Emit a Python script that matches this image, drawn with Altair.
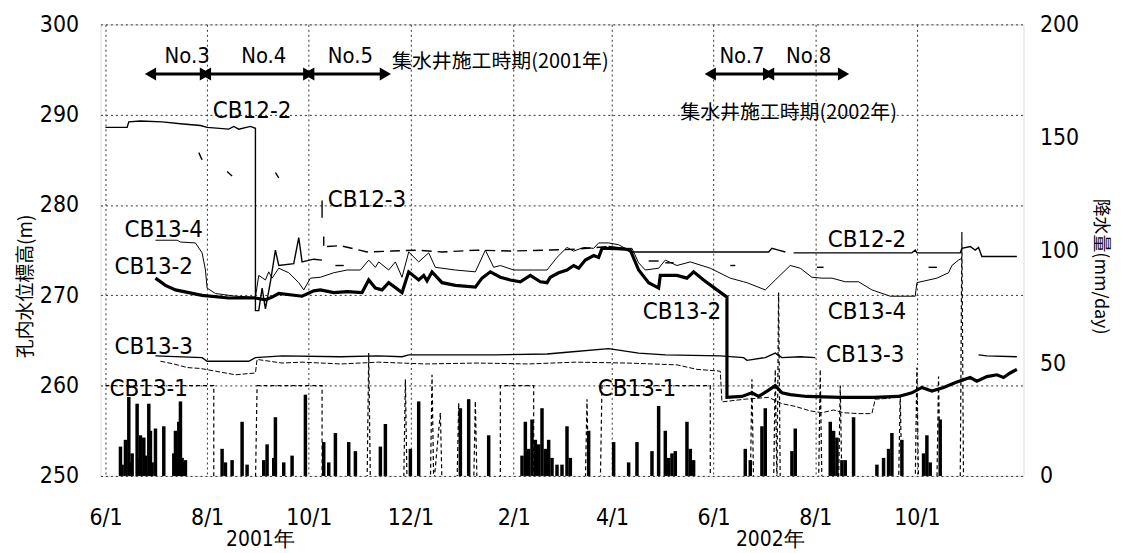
import altair as alt
import pandas as pd

# ---------------- data ----------------
rain_dates = ["2001-06-10","2001-06-11","2001-06-13","2001-06-15","2001-06-16","2001-06-17","2001-06-20","2001-06-21",
              "2001-06-22","2001-06-24","2001-06-25","2001-06-27","2001-06-28","2001-06-29","2001-07-01","2001-07-06",
              "2001-07-12","2001-07-13","2001-07-14","2001-07-15","2001-07-16","2001-07-17","2001-07-18","2001-07-19",
              "2001-08-10","2001-08-12","2001-08-16","2001-08-22","2001-08-25","2001-09-04","2001-09-06","2001-09-10",
              "2001-09-11","2001-09-16","2001-09-21","2001-09-29","2001-10-10","2001-10-13","2001-10-17","2001-10-25",
              "2001-10-29","2001-11-13","2001-11-16","2001-12-01","2001-12-06","2001-12-31","2002-01-05","2002-01-17",
              "2002-02-06","2002-02-08","2002-02-10","2002-02-12","2002-02-14","2002-02-16","2002-02-18","2002-02-20",
              "2002-02-22","2002-02-24","2002-02-27","2002-03-02","2002-03-05","2002-03-07","2002-03-18","2002-04-02",
              "2002-04-11","2002-04-16","2002-04-25","2002-04-29","2002-05-03","2002-05-05","2002-05-07","2002-05-09",
              "2002-05-16","2002-05-18","2002-05-20","2002-06-20","2002-06-23","2002-06-30","2002-07-02","2002-07-18",
              "2002-07-20","2002-08-10","2002-08-12","2002-08-14","2002-08-17","2002-08-19","2002-08-24","2002-09-07",
              "2002-09-11","2002-09-14","2002-09-16","2002-09-22","2002-10-05","2002-10-07","2002-10-09","2002-10-15"]
rain_mm = [13, 5, 16, 35, 6, 10, 32, 8,
           18, 17, 9, 32, 20, 6, 21, 22,
           10, 20, 9, 24, 33, 8, 6, 7,
           12, 6, 7, 24, 5, 7, 14, 8,
           26, 6, 9, 36, 15, 6, 19, 15,
           11, 13, 23, 12, 33, 30, 34, 18,
           9, 24, 12, 25, 16, 14, 30, 12,
           16, 8, 5, 5, 22, 8, 20, 15,
           6, 15, 11, 31, 20, 8, 10, 11,
           24, 12, 7, 12, 7, 22, 30, 11,
           21, 24, 20, 17, 7, 7, 26, 5,
           8, 12, 19, 16, 10, 18, 6, 25]

# CB12-2
cb122_a_dates = ["2001-06-01","2001-06-14","2001-06-15","2001-06-22","2001-07-05","2001-07-16","2001-07-28","2001-08-01",
                 "2001-08-14","2001-08-17","2001-08-20","2001-08-27","2001-08-30","2001-08-30","2001-09-01","2001-09-03",
                 "2001-09-05","2001-09-08","2001-09-11","2001-09-13","2001-09-22","2001-09-25","2001-09-27","2001-10-04",
                 "2001-10-09"]
cb122_a_vals = [288.6, 288.6, 289.2, 289.3, 289.2, 289.0, 288.8, 288.6,
                288.4, 288.7, 288.4, 288.7, 288.5, 268.3, 268.3, 270.8,
                268.5, 271.5, 275.0, 273.3, 273.5, 276.4, 273.7, 274.0,
                273.9]
cb122_b_dates = ["2001-10-12","2001-10-20","2001-11-05","2001-11-20","2001-12-05","2001-12-20","2002-01-10","2002-01-30",
                 "2002-02-20","2002-03-10","2002-03-30"]
cb122_b_vals = [275.4, 275.5, 274.8, 274.9, 275.0, 274.8, 275.0, 274.9, 275.0, 275.1, 275.4]
cb122_c_dates = ["2002-03-30","2002-04-09","2002-04-12","2002-07-04","2002-07-06","2002-07-10","2002-07-14"]
cb122_c_vals = [275.4, 275.2, 274.8, 274.8, 275.2, 275.0, 274.8]
cb122_d_dates = ["2002-07-19","2002-09-28","2002-09-30","2002-10-01","2002-10-27","2002-10-28","2002-11-02",
                 "2002-11-05","2002-11-07","2002-11-09","2002-11-30"]
cb122_d_vals = [274.7, 274.7, 275.0, 274.7, 274.7, 275.2, 275.4, 275.0, 275.3, 274.3, 274.3]

# CB12-3 (sparse short pieces)
cb123_dates = [["2001-07-27","2001-07-29"], ["2001-08-13","2001-08-16"], ["2001-09-11","2001-09-13"],
               ["2001-10-09","2001-10-09"], ["2001-10-10","2001-10-10"], ["2001-10-17","2001-10-22"],
               ["2002-04-23","2002-04-29"], ["2002-05-03","2002-05-08"], ["2002-06-11","2002-06-14"],
               ["2002-08-02","2002-08-06"], ["2002-10-08","2002-10-13"]]
cb123_vals = [[285.8, 285.0], [283.7, 283.2], [283.6, 283.0],
              [280.5, 278.6], [276.5, 275.5], [273.3, 273.3],
              [273.8, 273.8], [273.6, 273.6], [273.3, 273.3],
              [273.1, 273.1], [273.1, 273.1]]

# CB13-1 (dashed, spiky; values below 250 are off the chart)
cb131_dates = ["2001-06-01","2001-08-05","2001-08-05","2001-08-30","2001-08-31","2001-10-09","2001-10-09","2001-11-05",
               "2001-11-06","2001-11-07","2001-11-27","2001-11-28","2001-11-29","2001-12-13","2001-12-14","2001-12-15",
               "2001-12-19","2001-12-20","2001-12-29","2001-12-30","2001-12-31","2002-01-08","2002-01-09","2002-01-10",
               "2002-01-24","2002-01-24","2002-02-13","2002-02-13","2002-03-16","2002-03-17","2002-03-18","2002-03-25",
               "2002-03-26","2002-05-30","2002-05-30","2002-06-23","2002-06-24","2002-06-25","2002-07-07","2002-07-08",
               "2002-07-09","2002-07-10","2002-07-11","2002-08-03","2002-08-04","2002-08-05","2002-08-15","2002-08-16",
               "2002-08-17","2002-09-20","2002-09-21","2002-09-22","2002-09-30","2002-10-01","2002-10-02","2002-10-13",
               "2002-10-14","2002-10-15","2002-10-27","2002-10-28","2002-10-29"]
cb131_vals = [260, 260, 249, 249, 260, 260, 249, 249,
              263.6, 249, 249, 260.7, 249, 249, 261.2, 249,
              257, 249, 249, 258.1, 249, 249, 258.3, 249,
              249, 260, 260, 249, 249, 258.5, 249, 249,
              260, 260, 249, 249, 260.7, 249, 249, 261.8,
              249, 270.3, 249, 249, 261.8, 249, 249, 260,
              249, 249, 259, 249, 249, 262, 249, 249,
              261, 249, 249, 277, 249]

# CB13-2 (thick)
cb132_dates = ["2001-07-01","2001-07-07","2001-07-13","2001-07-29","2001-08-14","2001-08-30","2001-09-05","2001-09-09",
               "2001-09-13","2001-09-27","2001-10-04","2001-10-08","2001-10-16","2001-10-24","2001-11-02","2001-11-06",
               "2001-11-10","2001-11-14","2001-11-18","2001-11-26","2001-11-30","2001-12-06","2001-12-09","2001-12-11",
               "2001-12-14","2001-12-20","2001-12-28","2002-01-09","2002-01-13","2002-01-18","2002-01-24","2002-01-30",
               "2002-02-05","2002-02-11","2002-02-17","2002-02-21","2002-02-23","2002-02-28","2002-03-05","2002-03-09",
               "2002-03-12","2002-03-16","2002-03-21","2002-03-24","2002-03-26","2002-04-01","2002-04-09","2002-04-12",
               "2002-04-17","2002-04-23","2002-04-29","2002-04-30","2002-05-10","2002-05-16","2002-05-20","2002-05-26",
               "2002-06-03","2002-06-09","2002-06-09","2002-06-18","2002-06-24","2002-06-28","2002-07-04","2002-07-08",
               "2002-07-12","2002-07-17","2002-07-27","2002-08-16","2002-09-05","2002-09-20","2002-09-28","2002-10-04",
               "2002-10-10","2002-10-17","2002-10-25","2002-11-02","2002-11-06","2002-11-12","2002-11-18","2002-11-22",
               "2002-11-26","2002-11-30"]
cb132_vals = [271.9, 271.1, 270.6, 270.0, 269.7, 269.7, 269.5, 269.8,
              270.2, 269.9, 270.5, 270.6, 270.3, 270.4, 270.3, 271.7,
              270.8, 270.6, 271.4, 270.3, 272.6, 271.7, 272.2, 271.6,
              272.6, 271.4, 271.1, 270.9, 271.9, 272.6, 272.0, 271.7,
              271.5, 272.2, 271.5, 271.4, 272.0, 272.5, 272.8, 273.3,
              273.0, 273.9, 274.4, 274.2, 275.2, 275.2, 275.1, 275.0,
              272.8, 271.4, 270.8, 272.2, 272.2, 271.9, 272.6, 271.7,
              270.6, 269.8, 258.7, 258.8, 259.2, 258.8, 259.5, 260.0,
              259.2, 259.0, 258.8, 258.7, 258.7, 258.8, 259.2, 259.8,
              259.4, 259.8, 260.4, 260.9, 260.5, 261.0, 261.2, 260.9,
              261.4, 261.8]

# CB13-3
cb133_a_dates = ["2001-07-01","2001-07-29","2001-08-01","2001-08-26","2001-08-30","2001-09-15","2001-10-20","2001-11-12",
                 "2001-11-26","2001-11-30","2001-12-20","2002-01-20","2002-02-21","2002-03-05","2002-03-30","2002-04-17",
                 "2002-05-03","2002-06-05","2002-06-19","2002-06-21","2002-07-02","2002-07-08","2002-07-12","2002-07-23",
                 "2002-08-01"]
cb133_a_vals = [263.3, 263.1, 262.7, 262.7, 263.1, 263.3, 263.2, 263.3,
                263.2, 263.4, 263.4, 263.4, 263.5, 263.7, 264.1, 263.6,
                263.4, 263.3, 263.1, 262.8, 263.1, 263.6, 263.1, 263.2,
                263.1]
cb133_b_dates = ["2002-11-07","2002-11-12","2002-11-30"]
cb133_b_vals = [263.4, 263.3, 263.2]

# unlabeled dashed line below CB13-3
low_dates = ["2001-07-04","2001-07-12","2001-07-20","2001-07-28","2001-08-06","2001-08-18","2001-08-30","2001-08-31",
             "2001-09-15","2001-09-27","2001-10-20","2001-11-12","2001-12-10","2002-01-10","2002-02-10","2002-03-10",
             "2002-04-10","2002-05-10","2002-05-22","2002-06-05","2002-06-06","2002-06-20","2002-07-04","2002-07-12",
             "2002-07-20","2002-07-29","2002-08-05","2002-08-12","2002-08-18","2002-08-27","2002-09-04","2002-09-06",
             "2002-09-15"]
low_vals = [262.7, 262.4, 262.0, 261.9, 261.6, 261.2, 261.4, 262.9,
            262.5, 262.6, 262.4, 262.6, 262.4, 262.5, 262.4, 262.6,
            262.5, 262.3, 261.8, 261.6, 258.2, 258.5, 258.7, 258.0,
            257.7, 257.2, 257.0, 257.3, 257.0, 256.9, 256.9, 258.5,
            258.6]

# CB13-4
cb134_dates = ["2001-07-01","2001-07-14","2001-07-16","2001-07-25","2001-07-29","2001-07-31","2001-08-01","2001-08-06",
               "2001-08-18","2001-08-30","2001-09-01","2001-09-05","2001-09-07","2001-09-09","2001-09-13","2001-09-19",
               "2001-09-25","2001-09-28","2001-10-02","2001-10-08","2001-10-16","2001-10-24","2001-11-01","2001-11-06",
               "2001-11-10","2001-11-12","2001-11-18","2001-11-22","2001-11-26","2001-11-30","2001-12-06","2001-12-12",
               "2001-12-16","2001-12-28","2002-01-09","2002-01-15","2002-01-20","2002-01-24","2002-02-01","2002-02-13",
               "2002-02-21","2002-02-27","2002-03-05","2002-03-09","2002-03-15","2002-03-21","2002-03-24","2002-03-30",
               "2002-04-05","2002-04-09","2002-04-13","2002-04-17","2002-04-21","2002-04-29","2002-05-03","2002-05-10",
               "2002-05-18","2002-05-30","2002-06-11","2002-06-19","2002-06-21","2002-07-02","2002-07-08","2002-07-17",
               "2002-07-23","2002-07-30","2002-08-05","2002-08-11","2002-08-19","2002-08-27","2002-09-04","2002-09-15",
               "2002-09-30","2002-10-01","2002-10-13","2002-10-20","2002-10-22","2002-10-26","2002-10-28"]
cb134_vals = [276.1, 276.1, 275.9, 275.8, 274.7, 272.8, 270.8, 270.2,
              269.9, 269.8, 272.2, 271.7, 272.6, 271.9, 273.0, 272.5,
              271.4, 270.6, 271.9, 272.0, 272.5, 272.8, 272.8, 273.9,
              273.1, 273.7, 272.8, 273.7, 272.0, 274.8, 273.7, 274.7,
              273.1, 272.8, 272.6, 275.0, 273.1, 273.3, 272.8, 272.8,
              272.8, 274.2, 275.3, 274.9, 275.3, 275.2, 275.8, 275.8,
              275.6, 275.2, 275.2, 273.6, 272.8, 273.0, 273.9, 273.3,
              273.7, 273.0, 271.9, 271.5, 271.4, 270.6, 271.7, 273.3,
              273.0, 272.0, 271.9, 271.9, 271.5, 271.5, 270.6, 269.9,
              269.9, 271.4, 271.9, 272.5, 273.3, 273.9, 274.1]

# x-axis ticks
tick_dates = ["2001-06-01","2001-08-01","2001-10-01","2001-12-01","2002-02-01","2002-04-01","2002-06-01","2002-08-01","2002-10-01"]

# ---------------- build tables ----------------
rows = []
def add(series, seg, dates, vals, style):
    for i, (d, v) in enumerate(zip(dates, vals)):
        rows.append(dict(series=series, seg=f"{series}-{seg}", date=d, value=v, i=i, style=style))

add("CB12-2", "a", cb122_a_dates, cb122_a_vals, "thin")
add("CB12-2", "b", cb122_b_dates, cb122_b_vals, "dashlong")
add("CB12-2", "c", cb122_c_dates, cb122_c_vals, "thin")
add("CB12-2", "d", cb122_d_dates, cb122_d_vals, "thin")
for k, (ds, vs) in enumerate(zip(cb123_dates, cb123_vals)):
    add("CB12-3", str(k), ds, vs, "thin")
add("CB13-1", "a", cb131_dates, cb131_vals, "dash")
add("CB13-2", "a", cb132_dates, cb132_vals, "thick")
add("CB13-3", "a", cb133_a_dates, cb133_a_vals, "thin")
add("CB13-3", "b", cb133_b_dates, cb133_b_vals, "thin")
add("low", "a", low_dates, low_vals, "dashfine")
add("CB13-4", "a", cb134_dates, cb134_vals, "hair")

lines = pd.DataFrame(rows)
lines["date"] = pd.to_datetime(lines["date"])
rain = pd.DataFrame({"date": pd.to_datetime(rain_dates), "mm": rain_mm})

NUMF = "Liberation Sans Narrow, DejaVu Sans Condensed, Arial Narrow, sans-serif"
CJKF = "Noto Sans CJK JP"

def dt(s):
    y, m, d = s.split("-")
    return alt.DateTime(year=int(y), month=int(m), date=int(d))

xscale = alt.Scale(domain=[dt("2001-06-01"), dt("2002-12-01")])
xaxis = alt.Axis(values=[dt(s) for s in tick_dates], format="%-m/%-d", title=None, labelFontSize=23,
                 labelFont=NUMF, labelColor="black", labelPadding=31, ticks=False, domain=False,
                 grid=True, gridDash=[2, 3], gridColor="#333", gridWidth=1, labelFlush=False)
yscale = alt.Scale(domain=[250, 300], nice=False, zero=False)
yaxis = alt.Axis(values=[250, 260, 270, 280, 290, 300], title="孔内水位標高(m)", titleFont=CJKF, titleFontSize=19,
                 titleFontWeight="normal", titleColor="black", titleX=-75, titleY=263, titleAngle=270,
                 titleAlign="center", titleBaseline="middle",
                 labelFontSize=23, labelFont=NUMF, labelColor="black", labelPadding=22, ticks=False,
                 domain=False, grid=True, gridDash=[2, 3], gridColor="#333", gridWidth=1)

def XF(field):
    return alt.X(f"{field}:T", scale=xscale, axis=xaxis)

def YF(field):
    return alt.Y(f"{field}:Q", scale=yscale, axis=yaxis)

styles = {
    "thin": dict(strokeWidth=1.4),
    "hair": dict(strokeWidth=1.0),
    "thick": dict(strokeWidth=3.2),
    "dash": dict(strokeWidth=1.2, strokeDash=[4, 3]),
    "dashfine": dict(strokeWidth=1.0, strokeDash=[5, 2]),
    "dashlong": dict(strokeWidth=1.4, strokeDash=[10, 6]),
}
line_layers = []
for s, kw in styles.items():
    sub = lines[lines["style"] == s]
    line_layers.append(
        alt.Chart(sub).mark_line(color="black", clip=True, strokeJoin="miter", **kw).encode(
            x=XF("date"), y=YF("value"), detail="seg:N", order="i:Q"))

# ---------------- annotations ----------------
arrow_start = ["2001-06-28", "2001-07-31", "2001-10-01", "2002-05-30", "2002-07-04"]
arrow_end = ["2001-07-31", "2001-10-01", "2001-11-16", "2002-07-04", "2002-08-18"]
arrow_names = ["No.3", "No.4", "No.5", "No.7", "No.8"]
arrow_text_dates = ["2001-07-20", "2001-09-04", "2001-10-26", "2002-06-18", "2002-07-28"]
arrows = pd.DataFrame({"start": pd.to_datetime(arrow_start), "end": pd.to_datetime(arrow_end),
                       "name": arrow_names, "tdate": pd.to_datetime(arrow_text_dates),
                       "y": 294.5, "ty": 296.5})

arrow_rule = alt.Chart(arrows).mark_rule(color="black", strokeWidth=3).encode(
    x=XF("start"), x2="end:T", y=YF("y"))
arrow_left = alt.Chart(arrows).mark_point(shape="triangle-left", filled=True, color="black", size=170,
                                          opacity=1, dx=6).encode(x=XF("start"), y=YF("y"))
arrow_right = alt.Chart(arrows).mark_point(shape="triangle-right", filled=True, color="black", size=170,
                                           opacity=1, dx=-6).encode(x=XF("end"), y=YF("y"))
arrow_text = alt.Chart(arrows).mark_text(font=NUMF, fontSize=22, color="black", baseline="middle").encode(
    x=XF("tdate"), y=YF("ty"), text="name:N")

label_text = ["CB12-2", "CB12-3", "CB13-4", "CB13-2", "CB13-3", "CB13-1", "CB13-2", "CB13-1", "CB12-2", "CB13-4", "CB13-3"]
label_dates = ["2001-08-28", "2001-11-05", "2001-07-06", "2001-06-30", "2001-06-30", "2001-06-27",
               "2002-05-13", "2002-04-16", "2002-09-01", "2002-09-01", "2002-08-31"]
label_vals = [290.4, 280.6, 277.2, 273.1, 264.3, 259.6, 268.1, 259.6, 276.1, 268.1, 263.4]
labels = pd.DataFrame({"date": pd.to_datetime(label_dates), "value": label_vals, "t": label_text})
label_layer = alt.Chart(labels).mark_text(font=NUMF, fontSize=24, color="black", baseline="middle").encode(
    x=XF("date"), y=YF("value"), text="t:N")

period_text = ["集水井施工時期(2001年)", "集水井施工時期(2002年)"]
period_dates = ["2001-11-20", "2002-05-12"]
period_vals = [295.8, 290.2]
periods = pd.DataFrame({"date": pd.to_datetime(period_dates), "value": period_vals, "t": period_text})
period_layer = alt.Chart(periods).mark_text(font=CJKF, fontSize=20, color="black", align="left",
                                            baseline="middle").encode(x=XF("date"), y=YF("value"), text="t:N")

year_text = ["2001年", "2002年"]
year_dates = ["2001-09-02", "2002-07-05"]
years = pd.DataFrame({"date": pd.to_datetime(year_dates), "t": year_text})
year_layer = alt.Chart(years).mark_text(font=NUMF, fontSize=21, color="black", baseline="middle").encode(
    x=XF("date"), y=alt.value(518), text="t:N")

left = alt.layer(*line_layers, arrow_rule, arrow_left, arrow_right, arrow_text, label_layer,
                 period_layer, year_layer)

bars = alt.Chart(rain).mark_bar(color="black", width=3.5).encode(
    x=XF("date"),
    y=alt.Y("mm:Q", scale=alt.Scale(domain=[0, 200], nice=False),
            axis=alt.Axis(orient="right", values=[0, 50, 100, 150, 200], title="降水量(mm/day)",
                          titleFont=CJKF, titleFontSize=18, titleFontWeight="normal", titleColor="black",
                          titleAngle=90, titleX=76, titleY=243, titleAlign="center", titleBaseline="middle",
                          labelFontSize=23, labelFont=NUMF, labelColor="black", labelPadding=16,
                          ticks=False, domain=False, grid=False)))

chart = alt.layer(bars, left).resolve_scale(y="independent").properties(
    width=928, height=454,
    padding={"left": 93, "top": 15, "right": 92, "bottom": 74},
    autosize=alt.AutoSizeParams(type="none"),
).configure_view(stroke="black", strokeWidth=2).configure(background="white")

chart.save("out.html", embed_options={"renderer": "svg", "actions": False})
